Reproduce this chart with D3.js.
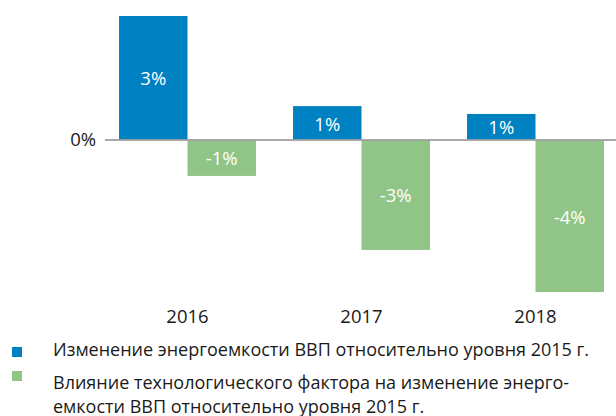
<!DOCTYPE html>
<html>
<head>
<meta charset="utf-8">
<script src="https://cdn.jsdelivr.net/npm/d3@7"></script>
<style>
  body { margin: 0; background: #fff; }
  text { font-family: "Open Sans", "Lato", sans-serif; }
</style>
</head>
<body>
<div id="chart"></div>
<script>
// ---- data ----
const years = ["2016", "2017", "2018"];
const intensityChange = [3.0, 0.82, 0.63];     // Изменение энергоемкости ВВП
const techFactor = [-0.87, -2.66, -3.68];      // Влияние технологического фактора
const seriesKeys = ["intensity", "tech"];
const seriesColors = ["#0081c2", "#90c587"];
const legendLines = [
    ["Изменение энергоемкости ВВП относительно уровня 2015 г."],
    ["Влияние технологического фактора на изменение энерго-", "емкости ВВП относительно уровня 2015 г."]
];
const zeroTick = [0];

const width = 616, height = 416;

const svg = d3.select("#chart")
    .append("svg")
    .attr("width", width)
    .attr("height", height);

const rows = years.map((y, i) => ({
    year: y,
    intensity: intensityChange[i],
    tech: techFactor[i]
}));

// scales
const x0 = d3.scaleBand()
    .domain(years)
    .range([100.5, 622.5])
    .paddingInner(0.213)
    .paddingOuter(0.1065);

const x1 = d3.scaleBand()
    .domain(seriesKeys)
    .range([0, x0.bandwidth()]);

const y = d3.scaleLinear()
    .domain([-4, 3])
    .range([305.3, 16]);

const color = d3.scaleOrdinal().domain(seriesKeys).range(seriesColors);

// bars
const groups = svg.append("g")
    .selectAll("g")
    .data(rows)
    .join("g")
    .attr("transform", d => `translate(${x0(d.year)},0)`);

const cells = groups.selectAll("g")
    .data(d => seriesKeys.map(k => ({ key: k, value: d[k] })))
    .join("g");

cells.append("rect")
    .attr("x", d => x1(d.key))
    .attr("y", d => y(Math.max(0, d.value)))
    .attr("width", x1.bandwidth())
    .attr("height", d => Math.abs(y(d.value) - y(0)))
    .attr("fill", d => color(d.key));

cells.append("text")
    .attr("x", d => x1(d.key) + x1.bandwidth() / 2)
    .attr("y", d => (y(d.value) + y(0)) / 2 + 7.5)
    .attr("text-anchor", "middle")
    .attr("fill", "#fff")
    .style("font-size", "18.5px")
    .text(d => `${Math.round(d.value)}%`);

// zero line
svg.append("line")
    .attr("x1", 105)
    .attr("x2", width)
    .attr("y1", y(0))
    .attr("y2", y(0))
    .attr("stroke", "#a0a0a0")
    .attr("stroke-width", 2)
    .attr("stroke-opacity", 0.9);

// y axis label (only 0%)
svg.append("g")
    .selectAll("text")
    .data(zeroTick)
    .join("text")
    .attr("x", 96)
    .attr("y", d => y(d) + 6.5)
    .attr("text-anchor", "end")
    .attr("fill", "#1a1a1a")
    .style("font-size", "18.5px")
    .text(d => `${d}%`);

// x axis labels
svg.append("g")
    .selectAll("text")
    .data(years)
    .join("text")
    .attr("x", d => x0(d) + x0.bandwidth() / 2)
    .attr("y", 322.5)
    .attr("text-anchor", "middle")
    .attr("fill", "#1a1a1a")
    .style("font-size", "18.5px")
    .text(d => d);

// legend
const legendY = [347, 371];
const lineY = [[355.5], [389, 412.5]];

legendLines.forEach((lines, i) => {
    svg.append("rect")
        .attr("x", 12)
        .attr("y", legendY[i])
        .attr("width", 10)
        .attr("height", 10)
        .attr("fill", seriesColors[i]);

    lines.forEach((t, j) => {
        svg.append("text")
            .attr("x", 53)
            .attr("y", lineY[i][j])
            .attr("fill", "#1a1a1a")
            .style("font-size", "18px")
            .text(t);
    });
});
</script>
</body>
</html>
